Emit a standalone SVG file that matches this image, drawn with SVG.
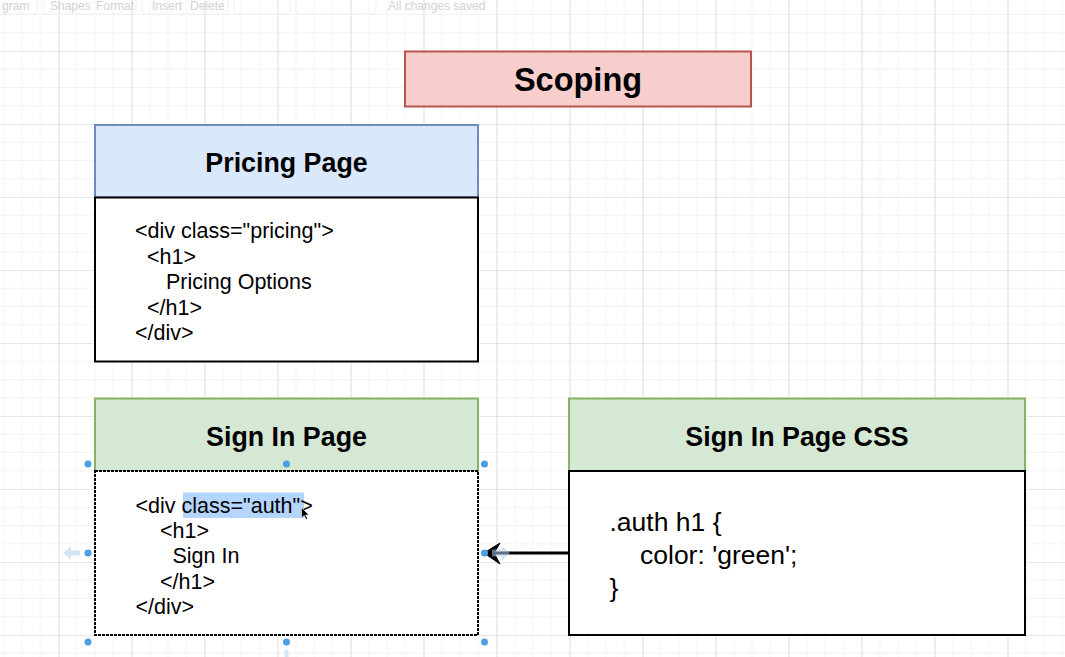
<svg xmlns="http://www.w3.org/2000/svg" width="1065" height="657" viewBox="0 0 1065 657">
  <defs>
    <pattern id="grid" patternUnits="userSpaceOnUse" x="-14.5" y="-22" width="73" height="73">
      <path d="M18.25 0V73M36.5 0V73M54.75 0V73M0 18.25H73M0 36.5H73M0 54.75H73" fill="none" stroke="#f4f4f4" stroke-width="1"/>
      <path d="M0 0.5H73" fill="none" stroke="#e8e8e8" stroke-width="1"/>
      <path d="M0.5 0V73" fill="none" stroke="#dcdcdc" stroke-width="1"/>
    </pattern>
    <style>
      .title { font-family: "Liberation Sans", Arial, sans-serif; font-weight: bold; fill: #000; text-anchor: middle; }
      .code { font-family: "Liberation Sans", Arial, sans-serif; font-size: 21.5px; fill: #000; }
      .css { font-family: "Liberation Sans", Arial, sans-serif; font-size: 26.5px; fill: #000; }
      .tb { font-family: "Liberation Sans", Arial, sans-serif; font-size: 12px; fill: #d2d2d2; }
      .tbbox { fill: none; stroke: #efefef; stroke-width: 1; }
      .handle { fill: #4a9fe6; }
      .body { fill: #ffffff; stroke: #000; stroke-width: 2; }
    </style>
  </defs>

  <rect x="0" y="0" width="1065" height="657" fill="#ffffff"/>
  <rect x="0" y="0" width="1065" height="657" fill="url(#grid)"/>

  <g id="toolbar">
    <rect class="tbbox" x="-10" y="-8" width="47" height="22" rx="4"/>
    <rect class="tbbox" x="43" y="-8" width="93" height="22" rx="4"/>
    <rect class="tbbox" x="142" y="-8" width="86" height="22" rx="4"/>
    <rect class="tbbox" x="234" y="-8" width="56" height="22" rx="4"/>
    <rect class="tbbox" x="296" y="-8" width="80" height="22" rx="4"/>
    <text class="tb" x="2" y="10">gram</text>
    <text class="tb" x="50" y="10">Shapes</text>
    <text class="tb" x="96" y="10">Format</text>
    <text class="tb" x="152" y="10">Insert</text>
    <text class="tb" x="190" y="10">Delete</text>
    <text class="tb" x="388" y="10">All changes saved</text>
  </g>

  <g id="scoping">
    <rect x="405" y="51.5" width="346" height="55" fill="#f8cecc" stroke="#b85450" stroke-width="2"/>
    <text class="title" x="578" y="91" font-size="32.5">Scoping</text>
  </g>

  <g id="pricing-page">
    <rect x="95" y="125" width="383" height="72.5" fill="#dae8fc" stroke="#6c8ebf" stroke-width="2"/>
    <text class="title" x="286.5" y="172" font-size="26.8">Pricing Page</text>
    <rect class="body" x="95" y="197.5" width="383" height="164"/>
    <text class="code" x="135" y="238">&lt;div class="pricing"&gt;</text>
    <text class="code" x="147" y="263.5">&lt;h1&gt;</text>
    <text class="code" x="166" y="289">Pricing Options</text>
    <text class="code" x="147" y="314.5">&lt;/h1&gt;</text>
    <text class="code" x="135" y="340">&lt;/div&gt;</text>
  </g>

  <g id="sign-in-page">
    <rect x="95" y="398.5" width="383" height="72.5" fill="#d5e8d4" stroke="#82b366" stroke-width="2"/>
    <text class="title" x="286.5" y="446" font-size="26.8">Sign In Page</text>
    <rect class="body" x="95" y="471" width="383" height="164" stroke-dasharray="3 1"/>
    <rect x="183" y="492.5" width="121" height="25.5" fill="#b4d5fe"/>
    <text class="code" x="135.5" y="513">&lt;div class="auth"&gt;</text>
    <text class="code" x="160" y="538">&lt;h1&gt;</text>
    <text class="code" x="172.5" y="563">Sign In</text>
    <text class="code" x="160" y="588.5">&lt;/h1&gt;</text>
    <text class="code" x="135.5" y="614">&lt;/div&gt;</text>
    <path d="M301.5 507.5 L301.5 518 L304 515.5 L306 519.5 L307.5 518.8 L305.6 515 L309 515 Z" fill="#000" stroke="#fff" stroke-width="0.6"/>
  </g>

  <g id="sign-in-css">
    <rect x="569" y="398.5" width="456" height="72.5" fill="#d5e8d4" stroke="#82b366" stroke-width="2"/>
    <text class="title" x="797" y="446" font-size="26.8">Sign In Page CSS</text>
    <rect class="body" x="569" y="471" width="456" height="164"/>
    <text class="css" x="609.5" y="531">.auth h1 {</text>
    <text class="css" x="640" y="564">color: 'green';</text>
    <text class="css" x="609.5" y="597">}</text>
  </g>

  <g id="connectors">
    <line x1="569" y1="553" x2="494" y2="553" stroke="#000" stroke-width="3"/>
    <path d="M484 553 L500 543 L494 553 L500 564 Z" fill="#000" stroke="#000" stroke-width="1" stroke-linejoin="miter"/>
    <path d="M492 549.5 H502 V546 L510 553 L502 560 V556.5 H492 Z" fill="#a9cdee" opacity="0.55"/>
  </g>

  <g id="selection-handles">
    <circle class="handle" cx="88" cy="464" r="3.5"/>
    <circle class="handle" cx="286.5" cy="464" r="3.5"/>
    <circle class="handle" cx="484.5" cy="464" r="3.5"/>
    <circle class="handle" cx="88" cy="553" r="3.5"/>
    <circle class="handle" cx="484.5" cy="553" r="3.5"/>
    <circle class="handle" cx="88" cy="642" r="3.5"/>
    <circle class="handle" cx="286.5" cy="642" r="3.5"/>
    <circle class="handle" cx="484.5" cy="642" r="3.5"/>
    <path d="M63 553 L71 546.5 V550.5 H80 V555.5 H71 V559.5 Z" fill="#d3e6f7"/>
    <rect x="284.5" y="650" width="4" height="7" fill="#d3e6f7"/>
  </g>
</svg>
